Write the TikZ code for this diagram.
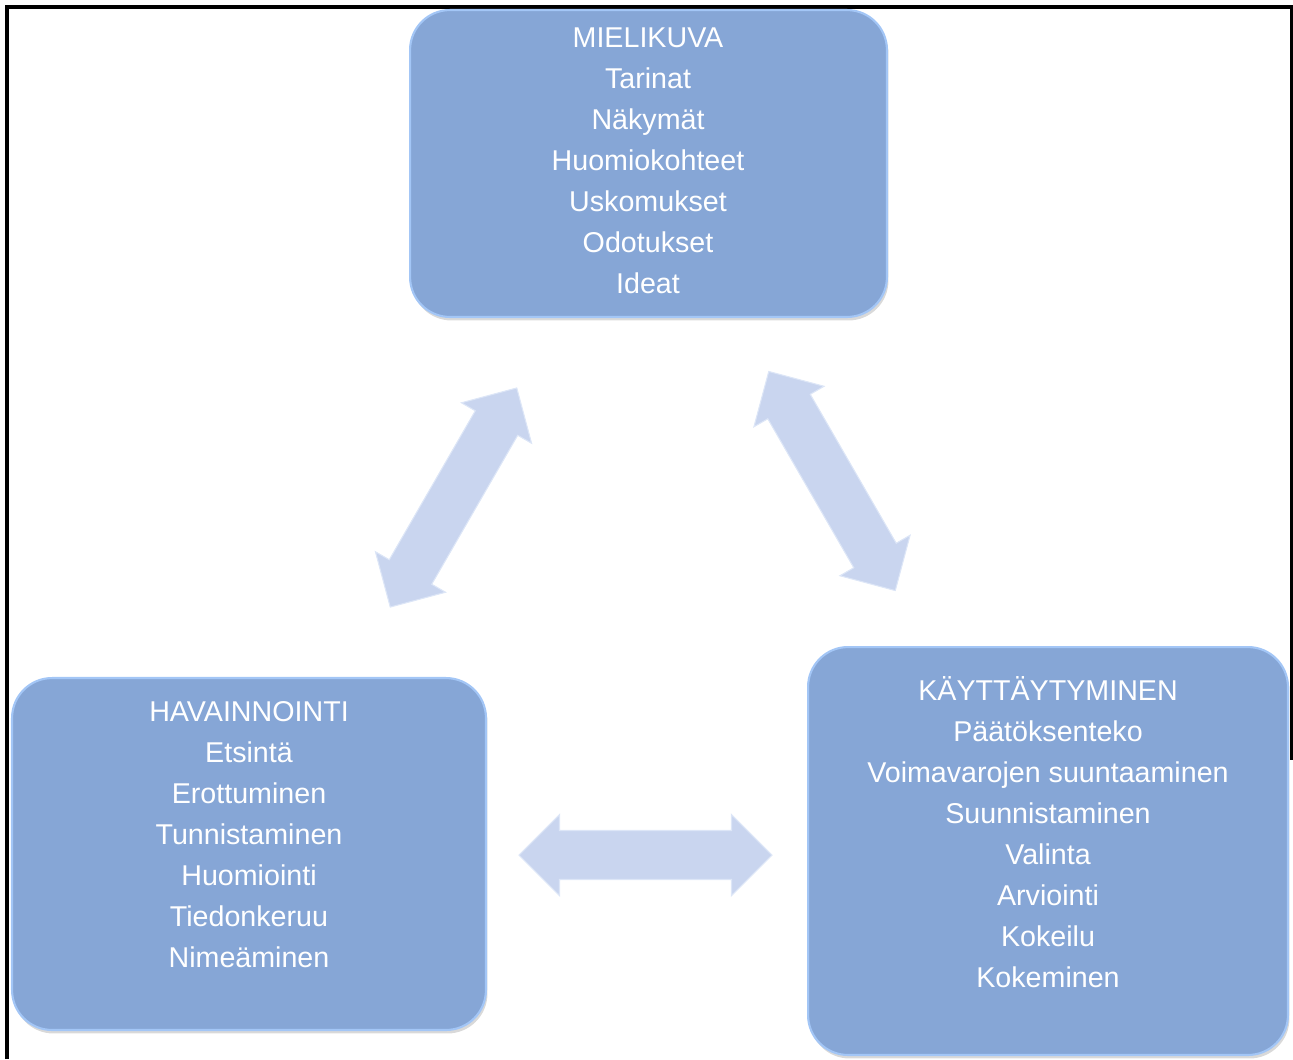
\documentclass[tikz,border=0pt]{standalone}
\usepackage{fontspec}
\setmainfont{Liberation Sans}
\usepackage{xcolor}
\definecolor{colorBox}{HTML}{86A6D6}
\definecolor{colorBoxEdge}{HTML}{A3C6F6}
\definecolor{colorArrow}{HTML}{C9D5EF}
\definecolor{colorArrowEdge}{HTML}{DDE6F7}
\usepackage{tikz}
\usetikzlibrary{positioning, shadows}
\tikzset{
  box/.style={rounded corners=0.8cm, fill=colorBox, draw=colorBoxEdge, line width=1.2pt,
    drop shadow={opacity=0.3, shadow xshift=0.3mm, shadow yshift=-0.7mm}, inner sep=0pt},
  boxtext/.style={text=white, align=center, font=\fontsize{16.3}{23.3}\selectfont, inner sep=0pt},
  blockarrow/.style={fill=colorArrow, draw=colorArrowEdge, line width=0.6pt},
  frame/.style={line width=1.8pt, black}
}
% two-headed block arrow: centre, angle
\newcommand{\twoway}[2]{%
  \begin{scope}[shift={#1}, rotate=#2]
    \draw[blockarrow] (-126.5,0) -- (-86,40.5) -- (-86,24.5) -- (86,24.5) -- (86,40.5)
      -- (126.5,0) -- (86,-40.5) -- (86,-24.5) -- (-86,-24.5) -- (-86,-40.5) -- cycle;
  \end{scope}}

\begin{document}
\begin{tikzpicture}[x=0.02cm, y=-0.02cm]
\useasboundingbox (0,0) rectangle (1293,1059);
\draw[frame] (7,1059) -- (7,7) -- (1292,7) -- (1292,760);
% boxes
\node[box, minimum width=9.54cm, minimum height=6.14cm] (mielikuva) at (648.5,163.5) {};
\node[box, minimum width=9.48cm, minimum height=7.04cm] (havainnointi) at (249,854) {};
\node[box, minimum width=9.6cm, minimum height=8.16cm] (kayttaytyminen) at (1048,851) {};
% texts
\node[boxtext] (mielikuvaText) at (648,161) {MIELIKUVA\\Tarinat\\Näkymät\\Huomiokohteet\\Uskomukset\\Odotukset\\Ideat};
\node[boxtext] (havainnointiText) at (249,834.5) {HAVAINNOINTI\\Etsintä\\Erottuminen\\Tunnistaminen\\Huomiointi\\Tiedonkeruu\\Nimeäminen};
\node[boxtext] (kayttaytyminenText) at (1048,832) {KÄYTTÄYTYMINEN\\Päätöksenteko\\Voimavarojen suuntaaminen\\Suunnistaminen\\Valinta\\Arviointi\\Kokeilu\\Kokeminen};
% arrows
\twoway{(453.5,497.5)}{60}
\twoway{(832,481)}{-60}
\twoway{(645.5,855)}{0}
\end{tikzpicture}
\end{document}
